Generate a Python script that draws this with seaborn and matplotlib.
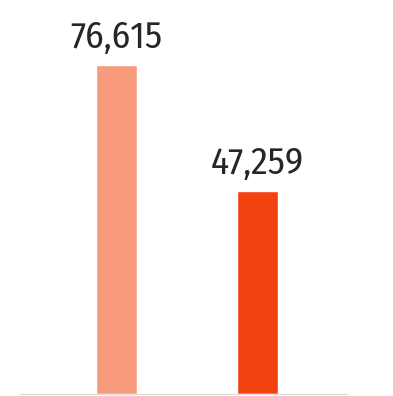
import matplotlib
matplotlib.use("Agg")
import matplotlib.pyplot as plt
import seaborn as sns
import pandas as pd

categories = ["A", "B"]
values = [76615, 47259]
labels = ["76,615", "47,259"]
colors = ["#F89A7C", "#F2420F"]

sns.set_theme(style="white")
plt.rcParams["font.family"] = ["Fira Sans Condensed", "Open Sans Condensed", "DejaVu Sans"]

df = pd.DataFrame({"cat": categories, "val": values})

fig = plt.figure(figsize=(3.93, 3.96), dpi=100)
ax = fig.add_axes([20 / 393, 2 / 396, 327 / 393, 394 / 396])

sns.barplot(data=df, x="cat", y="val", hue="cat", palette=colors,
            width=0.29, legend=False, ax=ax, saturation=1)

# value labels sit a fixed distance above each bar
for i, (v, t) in enumerate(zip(values, labels)):
    ax.annotate(t, (i, v), xytext=(0, 12), textcoords="offset points",
                ha="center", va="baseline", fontsize=27, fontweight="normal",
                color="#262626")

ax.set_xlim(-0.684, 1.635)
ax.set_ylim(0, 91750)
ax.set_xticks([])
ax.set_yticks([])
ax.set_xlabel("")
ax.set_ylabel("")
for s in ["top", "left", "right"]:
    ax.spines[s].set_visible(False)
ax.spines["bottom"].set_color("#dddddd")
ax.spines["bottom"].set_linewidth(1)

fig.savefig("out.png", dpi=100)
